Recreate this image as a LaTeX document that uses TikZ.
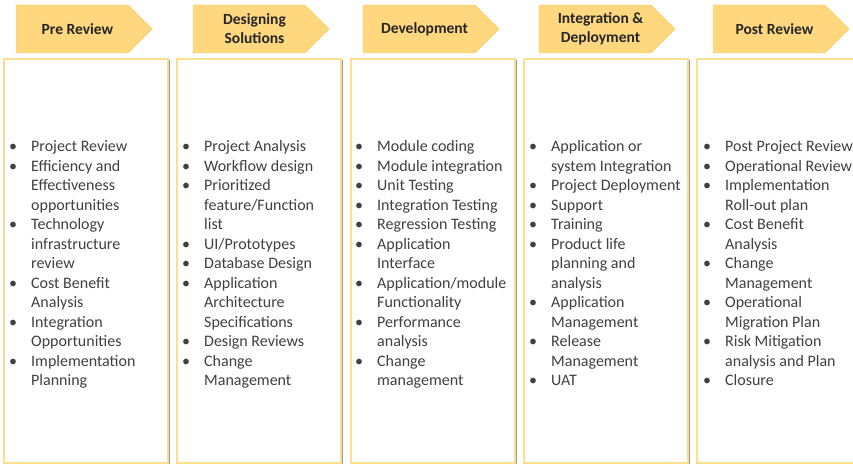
\documentclass[tikz,border=0pt]{standalone}
\usepackage{fontspec}
\setmainfont{Carlito}
\usepackage{xcolor}
\usepackage{tikz}
\usetikzlibrary{calc}
\usetikzlibrary{shapes.symbols}
\usetikzlibrary{shadows}
\definecolor{phasegold}{HTML}{FED77F}
\definecolor{phaseedge}{HTML}{F8CD66}
\definecolor{boxedge}{HTML}{FAE08E}
\definecolor{listgray}{HTML}{404040}
\newcommand{\itm}[1]{\makebox[22pt][l]{\textbullet}#1}
\newcommand{\cnt}[1]{\hspace*{22pt}#1}
\newcommand{\ph}[1]{\hspace*{11pt}#1}
\tikzstyle{phasenode}=[shape=signal, signal to=east, signal pointer angle=90, fill=phasegold, draw=phaseedge, line width=0.4pt, minimum width=136pt, minimum height=48pt, inner sep=0pt, align=center, font=\fontsize{15.5}{19}\selectfont\bfseries, text=black!85]
\tikzstyle{colbox}=[shape=rectangle, draw=boxedge, line width=1.3pt, fill=white, minimum width=164pt, minimum height=404pt, drop shadow={shadow xshift=2pt, shadow yshift=-0.6pt, fill=black!50, opacity=0.8}]
\tikzstyle{tasklist}=[shape=rectangle, inner sep=0pt, align=left, anchor=north west, text=listgray, font=\fontsize{16}{19.5}\selectfont]

\begin{document}
\begin{tikzpicture}[x=1pt, y=-1pt]
\useasboundingbox (0,0) rectangle (853,465);
\node [phasenode] (pre) at (72,29) {\ph{Pre Review}};
\node [phasenode] (design) at (249,29) {\ph{Designing}\\\ph{Solutions}};
\node [phasenode] (dev) at (419,29) {\ph{Development}};
\node [phasenode] (integ) at (595,29) {\ph{Integration \&}\\\ph{Deployment}};
\node [phasenode] (post) at (769,29) {\ph{Post Review}};

\node [colbox] (prebox) at (86,261) {};
\node [colbox] (designbox) at (259,261) {};
\node [colbox] (devbox) at (433,261) {};
\node [colbox] (integbox) at (606,261) {};
\node [colbox] (postbox) at (779,261) {};

\node [tasklist] (prelist) at (9,140.5) {\itm{Project Review}\\ \itm{Efficiency and}\\ \cnt{Effectiveness}\\ \cnt{opportunities}\\ \itm{Technology}\\ \cnt{infrastructure}\\ \cnt{review}\\ \itm{Cost Benefit}\\ \cnt{Analysis}\\ \itm{Integration}\\ \cnt{Opportunities}\\ \itm{Implementation}\\ \cnt{Planning}};
\node [tasklist] (designlist) at (182,140.5) {\itm{Project Analysis}\\ \itm{Workflow design}\\ \itm{Prioritized}\\ \cnt{feature/Function}\\ \cnt{list}\\ \itm{UI/Prototypes}\\ \itm{Database Design}\\ \itm{Application}\\ \cnt{Architecture}\\ \cnt{Specifications}\\ \itm{Design Reviews}\\ \itm{Change}\\ \cnt{Management}};
\node [tasklist] (devlist) at (355,140.5) {\itm{Module coding}\\ \itm{Module integration}\\ \itm{Unit Testing}\\ \itm{Integration Testing}\\ \itm{Regression Testing}\\ \itm{Application}\\ \cnt{Interface}\\ \itm{Application/module}\\ \cnt{Functionality}\\ \itm{Performance}\\ \cnt{analysis}\\ \itm{Change}\\ \cnt{management}};
\node [tasklist] (integlist) at (529,140.5) {\itm{Application or}\\ \cnt{system Integration}\\ \itm{Project Deployment}\\ \itm{Support}\\ \itm{Training}\\ \itm{Product life}\\ \cnt{planning and}\\ \cnt{analysis}\\ \itm{Application}\\ \cnt{Management}\\ \itm{Release}\\ \cnt{Management}\\ \itm{UAT}};
\node [tasklist] (postlist) at (703,140.5) {\itm{Post Project Review}\\ \itm{Operational Review}\\ \itm{Implementation}\\ \cnt{Roll-out plan}\\ \itm{Cost Benefit}\\ \cnt{Analysis}\\ \itm{Change}\\ \cnt{Management}\\ \itm{Operational}\\ \cnt{Migration Plan}\\ \itm{Risk Mitigation}\\ \cnt{analysis and Plan}\\ \itm{Closure}};
\end{tikzpicture}
\end{document}
